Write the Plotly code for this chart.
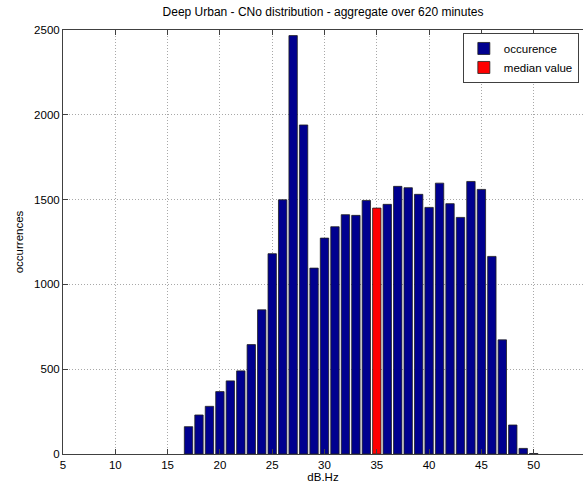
import plotly.graph_objects as go

# Data
bins = list(range(17, 51))
counts = [161, 230, 281, 368, 431, 490, 645, 850, 1181, 1499,
          2467, 1940, 1096, 1273, 1340, 1411, 1407, 1495, 1450, 1472,
          1578, 1570, 1531, 1454, 1597, 1476, 1395, 1607, 1560, 1165,
          673, 171, 33, 3]
median_bin = 35

occ_x = [b for b in bins if b != median_bin]
occ_y = [c for b, c in zip(bins, counts) if b != median_bin]
med_y = [c for b, c in zip(bins, counts) if b == median_bin]

x_ticks = list(range(5, 60, 5))
y_ticks = [0, 500, 1000, 1500, 2000, 2500]

FONT = "Liberation Sans, Arial, sans-serif"
NAVY = "#00008f"
RED = "#ff0000"

fig = go.Figure()
fig.add_trace(go.Bar(x=occ_x, y=occ_y, name="occurence", width=0.8,
                     marker=dict(color=NAVY, line=dict(color="#202020", width=0.8))))
fig.add_trace(go.Bar(x=[median_bin], y=med_y, name="median value", width=0.8,
                     marker=dict(color=RED, line=dict(color="#202020", width=0.8))))

W, H = 583, 487
L, R, T, B = 63, 0, 30, 33
plot_w = W - L - R
px_per_unit = 10.46
x_max = 5 + plot_w / px_per_unit

GRID = dict(showgrid=True, gridcolor="#a8a8a8", griddash="1px,2px", gridwidth=1)

fig.update_layout(
    width=W, height=H,
    margin=dict(l=L, r=R, t=T, b=B, pad=0, autoexpand=False),
    paper_bgcolor="white", plot_bgcolor="white",
    font=dict(family=FONT, size=11.5, color="black"),
    barmode="overlay",
    hovermode=False,
    title=dict(text="Deep Urban - CNo distribution - aggregate over 620 minutes",
               x=0.5, xref="paper", xanchor="center",
               y=1 - 12 / H, yref="container", yanchor="middle",
               font=dict(family=FONT, size=12, color="black")),
    showlegend=True,
    legend=dict(x=0.992, xanchor="right", y=0.993, yanchor="top",
                bgcolor="white", bordercolor="#404040", borderwidth=1,
                font=dict(family=FONT, size=11.5, color="black"),
                tracegroupgap=0, itemwidth=30),
    xaxis=dict(range=[5, x_max], tickvals=x_ticks, ticktext=[str(v) for v in x_ticks],
               **GRID,
               zeroline=False, showline=True, linecolor="#404040", linewidth=1,
               mirror="ticks", ticks="inside", ticklen=5, tickcolor="#404040",
               automargin=False,
               title=dict(text="dB.Hz", standoff=2, font=dict(family=FONT, size=11.5))),
    yaxis=dict(range=[0, 2500], tickvals=y_ticks, ticktext=[str(v) for v in y_ticks],
               **GRID,
               zeroline=False, showline=True, linecolor="#404040", linewidth=1,
               mirror=False, ticks="inside", ticklen=5, tickcolor="#404040",
               automargin=False,
               title=dict(text="occurrences", standoff=8, font=dict(family=FONT, size=11.5))),
)

fig.write_html("out.html", config={"displayModeBar": False},
               post_script="document.body.style.margin='0';document.body.style.overflow='hidden';")
